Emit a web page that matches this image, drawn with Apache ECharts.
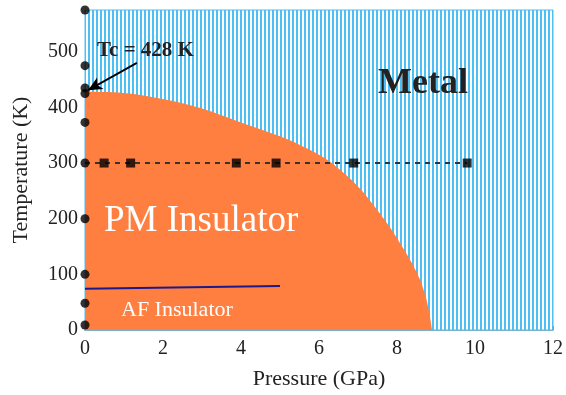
<!DOCTYPE html>
<html><head><meta charset="utf-8">
<script src="https://cdn.jsdelivr.net/npm/echarts@6/dist/echarts.min.js"></script>
<style>html,body{margin:0;padding:0;background:#fff}#c{width:566px;height:395px}</style>
</head><body><div id="c"></div>
<script>
// Boundary of PM insulator region (Pressure GPa, Temperature K)
const boundaryP = [0, 1, 2, 3, 4, 5, 5.5, 6, 6.33, 7, 7.5, 8, 8.5, 8.75, 8.9];
const boundaryT = [428, 426, 415, 398, 373, 348, 333, 315, 300, 258, 215, 165, 104, 56, 0];
// Measured points at P = 0
const dotT = [575, 475, 435, 425, 373, 300, 200, 100, 48, 9];
// Measured points at T = 300 K
const squareP = [0.49, 1.17, 3.88, 4.9, 6.89, 9.8];
const squareT = 300;
// AF transition line
const afP = [0, 5];
const afT = [74, 79];
const xTicks = [0, 2, 4, 6, 8, 10, 12];
const yTicks = [0, 100, 200, 300, 400, 500];
const yMax = 575;

const FONT = 'Liberation Serif';
const cv = document.createElement('canvas');
cv.width = 4; cv.height = 4;
const cx = cv.getContext('2d');
cx.fillStyle = '#ffffff'; cx.fillRect(0,0,4,4);
cx.fillStyle = '#4cbff5'; cx.fillRect(0,0,2,4);

const chart = echarts.init(document.getElementById('c'), null, {renderer:'canvas'});
chart.setOption({
  animation: false,
  grid: {left: 85, right: 11, top: 10, bottom: 64},
  xAxis: {
    type: 'value', min: xTicks[0], max: xTicks[xTicks.length-1], interval: 2,
    name: 'Pressure (GPa)', nameLocation: 'middle', nameGap: 38,
    nameTextStyle: {fontFamily: FONT, fontSize: 22, color: '#222'},
    axisLine: {show: true, lineStyle: {color: '#888', width: 1.5}},
    axisTick: {show: true, inside: true, length: 4, lineStyle: {color: '#888'}},
    axisLabel: {fontFamily: FONT, fontSize: 20, color: '#222', margin: 9},
    splitLine: {show: false}
  },
  yAxis: {
    type: 'value', min: 0, max: yMax, interval: 100,
    name: 'Temperature (K)', nameLocation: 'middle', nameGap: 53,
    nameTextStyle: {fontFamily: FONT, fontSize: 22, color: '#222'},
    axisLine: {show: false},
    axisTick: {show: false},
    axisLabel: {fontFamily: FONT, fontSize: 20, color: '#222', margin: 7, showMaxLabel: false},
    splitLine: {show: false}
  },
  series: [
    {
      type: 'line', data: [], silent: true,
      markArea: {
        silent: true,
        itemStyle: {color: {image: cv, repeat: 'repeat'}, borderColor: '#4cbff5', borderWidth: 1},
        data: [[{coord: [xTicks[0], 0]}, {coord: [xTicks[xTicks.length-1], yMax]}]]
      }
    },
    {
      type: 'line', smooth: 0.35, symbol: 'none',
      data: boundaryP.map((p, i) => [p, boundaryT[i]]),
      lineStyle: {width: 0},
      areaStyle: {color: '#ff7f40', opacity: 1, origin: 'start'},
      z: 3
    },
    {
      type: 'line', symbol: 'none',
      data: afP.map((p, i) => [p, afT[i]]),
      lineStyle: {color: '#1a1a8c', width: 2},
      z: 4
    },
    {
      type: 'line', symbol: 'none',
      data: [[0, squareT], [squareP[squareP.length-1], squareT]],
      lineStyle: {color: '#333', width: 2, type: [5, 5]},
      z: 5
    },
    {
      type: 'scatter', symbol: 'rect', symbolSize: 9,
      data: squareP.map(p => [p, squareT]),
      itemStyle: {color: '#000'},
      z: 6
    },
    {
      type: 'scatter', symbol: 'circle', symbolSize: 9, clip: false,
      data: dotT.map(t => [0, t]),
      itemStyle: {color: '#000'},
      z: 7,
      markLine: {
        silent: true, symbol: ['none', 'arrow'], symbolSize: [10, 14],
        lineStyle: {color: '#000', width: 1.8, type: 'solid'},
        label: {show: false},
        data: [[{coord: [1.33, 480]}, {coord: [0.08, 431]}]]
      }
    }
  ],
  graphic: [
    {type: 'text', left: 97, top: 40, style: {text: 'Tc = 428 K', fontFamily: FONT, fontSize: 21, fontWeight: 'bold', fill: '#222'}, z: 20},
    {type: 'text', left: 378, top: 66, style: {text: 'Metal', fontFamily: FONT, fontSize: 36, fontWeight: 'bold', fill: '#222'}, z: 20},
    {type: 'text', left: 104, top: 203, style: {text: 'PM Insulator', fontFamily: FONT, fontSize: 37, fill: '#fff'}, z: 20},
    {type: 'text', left: 121, top: 299, style: {text: 'AF Insulator', fontFamily: FONT, fontSize: 22, fill: '#fff'}, z: 20}
  ]
});
</script></body></html>
